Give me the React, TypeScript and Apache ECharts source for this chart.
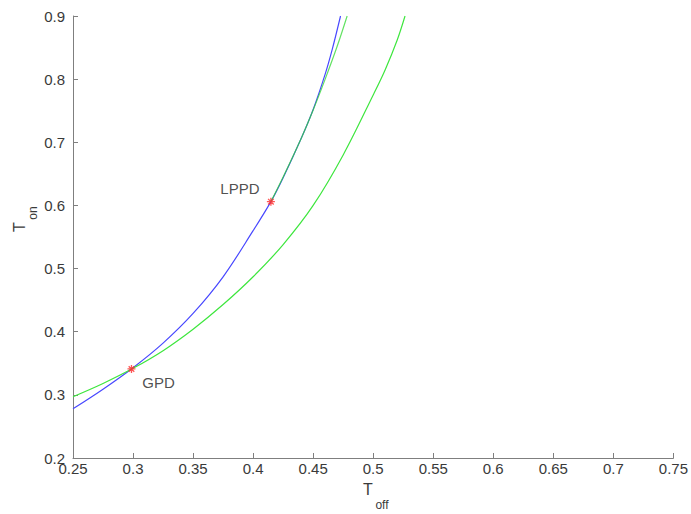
import React, { useEffect, useRef } from "react";
import * as echarts from "echarts";

const xTickMin = 0.25;
const xTickMax = 0.75;
const xTickStep = 0.05;
const yTickMin = 0.2;
const yTickMax = 0.9;
const yTickStep = 0.1;

const blueX = [0.25, 0.275, 0.3, 0.325, 0.35, 0.375, 0.4, 0.4148, 0.425, 0.44, 0.45, 0.46, 0.466, 0.4728];
const blueY = [0.278, 0.309, 0.343, 0.382, 0.429, 0.487, 0.56, 0.606, 0.644, 0.706, 0.752, 0.808, 0.848, 0.9];

const greenOuterX = [0.25, 0.275, 0.3, 0.325, 0.35, 0.375, 0.4, 0.425, 0.45, 0.475, 0.5, 0.51, 0.52, 0.5265];
const greenOuterY = [0.297, 0.318, 0.342, 0.37, 0.404, 0.443, 0.487, 0.538, 0.6, 0.68, 0.775, 0.815, 0.862, 0.9];

const greenInnerX = [0.4148, 0.425, 0.44, 0.45, 0.46, 0.47, 0.4783];
const greenInnerY = [0.606, 0.645, 0.706, 0.751, 0.8, 0.852, 0.9];

const markerNames = ["GPD", "LPPD"];
const markerX = [0.2987, 0.4148];
const markerY = [0.341, 0.606];

const zip = (xs: number[], ys: number[]) => xs.map((x, i) => [x, ys[i]]);

export default function App() {
  const ref = useRef<HTMLDivElement>(null);
  useEffect(() => {
    if (!ref.current) return;
    const chart = echarts.init(ref.current, null, { renderer: "svg" });
    const font = "'Liberation Sans', Arial, Helvetica, sans-serif";
    const labelOffsets: Record<string, number[]> = { GPD: [27, 14], LPPD: [-31, -13] };
    chart.setOption({
      animation: false,
      backgroundColor: "#ffffff",
      grid: { left: 73, right: 15, top: 16, bottom: 56, containLabel: false },
      xAxis: {
        type: "value",
        min: xTickMin,
        max: xTickMax,
        interval: xTickStep,
        axisLine: { show: true, lineStyle: { color: "#7f7f7f", width: 1 } },
        axisTick: { show: true, inside: true, length: 5, lineStyle: { color: "#7f7f7f" } },
        splitLine: { show: false },
        axisLabel: {
          color: "#3a3a3a",
          fontSize: 15,
          fontFamily: font,
          margin: 4,
          lineHeight: 12,
          formatter: (v: number) => String(+v.toFixed(2)),
        },
      },
      yAxis: {
        type: "value",
        min: yTickMin,
        max: yTickMax,
        interval: yTickStep,
        axisLine: { show: true, lineStyle: { color: "#7f7f7f", width: 1 } },
        axisTick: { show: true, inside: true, length: 5, lineStyle: { color: "#7f7f7f" } },
        splitLine: { show: false },
        axisLabel: {
          color: "#3a3a3a",
          fontSize: 15,
          fontFamily: font,
          margin: 8,
          lineHeight: 10,
          verticalAlign: "middle",
          formatter: (v: number) => String(+v.toFixed(2)),
        },
      },
      graphic: [
        { type: "text", x: 368, y: 489, style: { text: "T", fontSize: 16, fontFamily: font, fill: "#3a3a3a", align: "center", verticalAlign: "middle" } },
        { type: "text", x: 382, y: 505, style: { text: "off", fontSize: 12, fontFamily: font, fill: "#3a3a3a", align: "center", verticalAlign: "middle" } },
        { type: "text", x: 19, y: 227, rotation: Math.PI / 2, style: { text: "T", fontSize: 16, fontFamily: font, fill: "#3a3a3a", align: "center", verticalAlign: "middle" } },
        { type: "text", x: 33, y: 213, rotation: Math.PI / 2, style: { text: "on", fontSize: 12, fontFamily: font, fill: "#3a3a3a", align: "center", verticalAlign: "middle" } },
      ],
      series: [
        {
          type: "line",
          data: zip(blueX, blueY),
          smooth: 0.35,
          showSymbol: false,
          lineStyle: { color: "#4848ff", width: 1.2 },
          z: 2,
        },
        {
          type: "line",
          data: zip(greenOuterX, greenOuterY),
          smooth: 0.35,
          showSymbol: false,
          lineStyle: { color: "#3ee63e", width: 1.2 },
          z: 3,
        },
        {
          type: "line",
          data: zip(greenInnerX, greenInnerY),
          smooth: 0.35,
          showSymbol: false,
          lineStyle: { color: "#2ed82e", width: 1.2, opacity: 0.75 },
          z: 3,
        },
        {
          type: "scatter",
          symbol: "path://M0,-5L0,5M-5,0L5,0M-3.5,-3.5L3.5,3.5M-3.5,3.5L3.5,-3.5",
          symbolSize: 8,
          itemStyle: { color: "#ff2a2a", borderColor: "#ff2a2a", borderWidth: 1.3 },
          z: 5,
          data: markerNames.map((n, i) => ({
            name: n,
            value: [markerX[i], markerY[i]],
            label: {
              show: true,
              position: "inside",
              offset: labelOffsets[n],
              formatter: n,
              color: "#222222",
              fontSize: 15,
              fontFamily: font,
            },
          })),
        },
      ],
    });
    return () => chart.dispose();
  }, []);
  return <div ref={ref} style={{ position: "fixed", left: 0, top: 0, width: 691, height: 514 }} />;
}
